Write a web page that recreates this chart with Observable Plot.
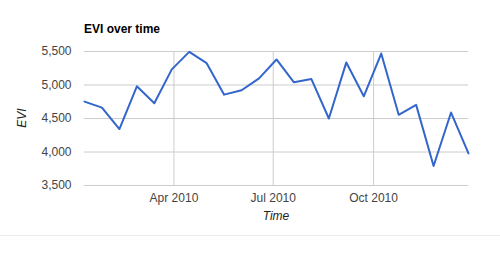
<!DOCTYPE html>
<html>
<head>
<meta charset="utf-8">
<script src="https://cdn.jsdelivr.net/npm/d3@7"></script>
<script src="https://cdn.jsdelivr.net/npm/@observablehq/plot@0.6"></script>
<style>
  html, body { margin: 0; padding: 0; background: #fff; }
  #wrap { position: relative; width: 500px; height: 262px; overflow: hidden; font-family: "Liberation Sans", Arial, sans-serif; }
  #wrap svg { position: absolute; left: 0; top: 0; }
  #sep { position: absolute; left: 0; top: 235px; width: 500px; height: 1px; background: #ebebeb; }
</style>
</head>
<body>
<div id="wrap"><div id="sep"></div></div>
<script>
const title = "EVI over time";
const xTitle = "Time";
const yTitle = "EVI";
const dates = ["2010-01-09","2010-01-25","2010-02-10","2010-02-26","2010-03-14","2010-03-30",
  "2010-04-15","2010-05-01","2010-05-17","2010-06-02","2010-06-18","2010-07-04",
  "2010-07-20","2010-08-05","2010-08-21","2010-09-06","2010-09-22","2010-10-08",
  "2010-10-24","2010-11-09","2010-11-25","2010-12-11","2010-12-27"];
const evi = [4752, 4663, 4343, 4980, 4728, 5233, 5495, 5326, 4856, 4921, 5099, 5381,
  5040, 5089, 4500, 5337, 4832, 5470, 4555, 4703, 3792, 4589, 3979];
const yTicks = [3500, 4000, 4500, 5000, 5500];
const xTickDates = ["2010-04-01", "2010-07-01", "2010-10-01"];
const xTickLabels = ["Apr 2010", "Jul 2010", "Oct 2010"];

const data = dates.map((d, i) => ({date: new Date(d + "T00:00:00Z"), value: evi[i]}));
const xTicks = xTickDates.map(d => new Date(d + "T00:00:00Z"));
const labelOf = new Map(xTicks.map((d, i) => [+d, xTickLabels[i]]));

const W = 500, H = 262;
const plot = Plot.plot({
  width: W,
  height: H,
  marginLeft: 84,
  marginRight: 32,
  marginTop: 51,
  marginBottom: 77,
  style: {fontFamily: "'Liberation Sans', Arial, sans-serif", fontSize: "12px", color: "#444", background: "transparent", overflow: "visible"},
  x: {type: "utc", domain: [data[0].date, data[data.length - 1].date]},
  y: {domain: [3500, 5500]},
  marks: [
    Plot.gridX(xTicks, {stroke: "#cccccc", strokeOpacity: 1}),
    Plot.gridY(yTicks, {stroke: "#cccccc", strokeOpacity: 1}),
    Plot.axisX(xTicks, {tickSize: 0, tickPadding: 8, tickFormat: d => labelOf.get(+d), label: null, fontSize: 12, fill: "#444"}),
    Plot.axisY(yTicks, {tickSize: 0, tickPadding: 13, tickFormat: d3.format(","), label: null, fontSize: 12, fill: "#444"}),
    Plot.line(data, {x: "date", y: "value", stroke: "#3366cc", strokeWidth: 2, strokeLinejoin: "round"})
  ]
});
document.getElementById("wrap").appendChild(plot);

const svg = d3.select(plot);
svg.append("text").attr("x", 84).attr("y", 33).attr("text-anchor", "start")
  .attr("font-size", 12).attr("font-weight", "bold").attr("fill", "#000")
  .attr("font-family", "'Liberation Sans', Arial, sans-serif").text(title);
svg.append("text").attr("x", 276).attr("y", 220).attr("text-anchor", "middle")
  .attr("font-size", 12).attr("font-style", "italic").attr("fill", "#222")
  .attr("font-family", "'Liberation Sans', Arial, sans-serif").text(xTitle);
svg.append("text").attr("transform", "translate(26,118) rotate(-90)").attr("text-anchor", "middle")
  .attr("font-size", 12).attr("font-style", "italic").attr("fill", "#222")
  .attr("font-family", "'Liberation Sans', Arial, sans-serif").text(yTitle);
</script>
</body>
</html>
